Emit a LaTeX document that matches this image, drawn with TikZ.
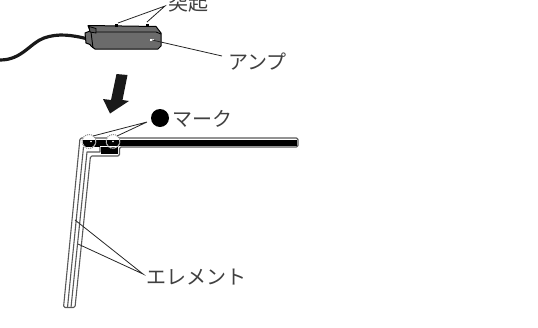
\documentclass[tikz,border=0pt]{standalone}
\usepackage{fontspec}
\newfontfamily\jpfont{Noto Sans CJK JP}
\definecolor{txtc}{gray}{0.25}
\definecolor{bodyc}{gray}{0.42}
\tikzset{
  lab/.style={font=\jpfont\fontsize{20}{20}\selectfont, text=txtc, inner sep=0pt, anchor=west},
  leader/.style={draw=black!85, line width=0.8pt},
  ring/.style={draw=black!45, densely dotted, line width=1pt, fill=white},
  rodline/.style={draw=black!65, line width=1.1pt, line join=round},
}
\begin{document}
\begin{tikzpicture}[x=1pt,y=-1pt]
\useasboundingbox (0,0) rectangle (538,327);
\begin{scope}
\clip (0,0) rectangle (538,327);
% text
\node[lab] (totsu) at (168,3) {突起};
\node[lab] (amp) at (228,62) {アンプ};
\node[lab] (mark) at (172,119) {マーク};
\node[lab] (elem) at (146,277) {エレメント};
\node[circle, fill=black, minimum size=18pt, inner sep=0pt] (dot) at (160,118) {};
% cable
\draw[line width=3.2pt, black!90] (88,39) .. controls (72,35) and (58,33) .. (44,38) .. controls (30,43) and (22,60) .. (0,60);
% amplifier
\fill[bodyc, draw=black, line width=1pt, line join=round]
  (88,25.5) -- (156,26.5) -- (161,33) -- (161,46) -- (158,49) -- (95,49) -- (91,46) -- (90,44.5) -- (86,43) -- (85,33) -- (90,31) -- cycle;
\draw[black, line width=0.9pt] (91,32) -- (156,32) -- (161,34);
\draw[black, line width=0.9pt] (91,32) -- (93,48);
\fill[black!65, draw=black, line width=0.8pt] (89,26.5) -- (96,28.5) -- (96,33) -- (90,32) -- cycle;
\fill[black] (114.5,23.5) rectangle (117.5,26.5);
\fill[black] (145.5,23.5) rectangle (148.5,26.5);
\coordinate (bumpa) at (118,23);
\coordinate (bumpb) at (147,22);
\coordinate (totsuJ) at (165,6);
\coordinate (ampP) at (152,40);
\coordinate (ampJ) at (222,56);
\draw[leader] (bumpa) -- (totsuJ) -- (bumpb);
\fill[white] (150,39) rectangle (154,41);
\draw[leader] (ampP) -- (ampJ);
% big arrow
\fill[black!90] (116.5,74) -- (127.5,75) -- (122.5,100) -- (129,101) -- (110,113.5) -- (103,99) -- (111,100) -- cycle;
% element outline
\draw[rodline, fill=white, rounded corners=1.5pt]
  (80,138) -- (298,138) -- (298,147) -- (119.5,147) -- (119.5,156) -- (90.5,156)
  -- (75,307.5) -- (63.5,307.5) -- cycle;
% inner lines
\draw[rodline] (67.5,307.5) -- (83.5,147);
\draw[rodline] (71,307.5) -- (87,152) -- (100,152) -- (100,147);
% black core
\fill[black] (84,140) rectangle (296.5,145.6);
\fill[black] (101,147) rectangle (118,154);
\draw[black, line width=1.5pt] (84,146.5) -- (100,146.5);
% rings
\node[circle, ring, minimum size=14pt, inner sep=0pt] (ra) at (89,141.5) {};
\node[circle, ring, minimum size=14pt, inner sep=0pt] (rb) at (113,141.5) {};
\begin{scope}
\clip (89,141.5) circle (6.2);
\fill[black] (82,140) rectangle (96,147);
\end{scope}
\begin{scope}
\clip (113,141.5) circle (6.2);
\fill[black] (106,140) rectangle (120,145.6);
\fill[black] (106,147) rectangle (120,150);
\end{scope}
\fill[white] (91,141.5) circle (0.9);
\fill[white] (113,141.5) circle (0.9);
\coordinate (marka) at (93,136);
\coordinate (markb) at (117,136);
\coordinate (markJ) at (147,122);
\draw[leader] (marka) -- (markJ) -- (markb);
% element leaders
\coordinate (ela) at (75,220);
\coordinate (elb) at (78,244);
\coordinate (elJ) at (143,274);
\draw[leader] (ela) -- (elJ) -- (elb);
\end{scope}
\end{tikzpicture}
\end{document}
